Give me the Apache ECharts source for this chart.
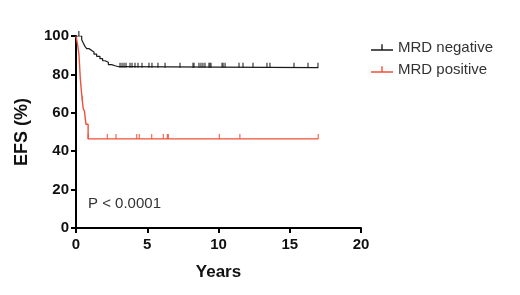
<!DOCTYPE html>
<html>
<head>
<meta charset="utf-8">
<script src="https://cdn.jsdelivr.net/npm/echarts@6/dist/echarts.min.js"></script>
<style>
  html, body { margin: 0; padding: 0; background: #fff; }
  #chart { width: 520px; height: 295px; }
</style>
</head>
<body>
<div id="chart"></div>
<script>
// Kaplan-Meier steps (years, EFS %)
var negTimes = [0, 0.4, 0.51, 0.63, 0.75, 0.93, 1.1, 1.26, 1.45, 1.68, 1.87, 2.04, 2.27, 2.5, 2.74, 3.0, 17.0];
var negSurv  = [100, 98.1, 96.4, 94.6, 93.4, 92.4, 91.7, 90.6, 89.4, 88.2, 87.1, 86.3, 85.1, 84.5, 84.0, 83.5, 83.5];
var negCensor = [0.2, 3.09, 3.23, 3.37, 3.51, 3.79, 3.93, 4.14, 4.35, 4.63, 5.12, 5.33, 5.75, 6.25, 7.3,
                 8.21, 8.28, 8.63, 8.77, 8.91, 9.05, 9.33, 9.4, 9.47, 10.25, 10.32, 10.46, 11.44, 11.72,
                 12.42, 13.4, 13.61, 15.3, 16.28, 16.98];

var posTimes = [0, 0.1, 0.2, 0.25, 0.3, 0.38, 0.45, 0.5, 0.6, 0.7, 0.85, 17.0];
var posSurv  = [100, 96, 91, 85, 78, 71, 66, 62.5, 60.5, 54, 46.4, 46.4];
var posCensor = [0.45, 0.86, 2.2, 2.81, 4.26, 4.44, 5.31, 6.13, 6.41, 6.48, 10.06, 11.5, 17.0];

var xTicks = [0, 5, 10, 15, 20];
var yTicks = [0, 20, 40, 60, 80, 100];

function pairs(t, s) {
  return t.map(function (v, i) { return [v, s[i]]; });
}
function survAt(t, s, x) {
  var y = s[0];
  for (var i = 0; i < t.length; i++) { if (t[i] <= x) y = s[i]; }
  return y;
}
function censorPts(c, t, s) {
  return c.map(function (x) { return [x, survAt(t, s, x)]; });
}

var BLACK = '#1a1a1a';
var RED = '#f0503a';
var FONT = 'Arial, Liberation Sans';
var legendIcon = 'path://M0,9 L22,9 L22,10.4 L0,10.4 Z M10.3,4 L11.7,4 L11.7,9 L10.3,9 Z';

var chart = echarts.init(document.getElementById('chart'));
chart.setOption({
  animation: false,
  grid: { left: 76, right: 159, top: 36, bottom: 67 },
  legend: {
    orient: 'vertical',
    left: 366,
    top: 35,
    itemGap: 7,
    itemWidth: 22,
    itemHeight: 10,
    textStyle: { fontFamily: FONT, fontSize: 15, color: '#333' },
    data: [
      { name: 'MRD negative', icon: legendIcon, itemStyle: { color: BLACK } },
      { name: 'MRD positive', icon: legendIcon, itemStyle: { color: RED } }
    ]
  },
  xAxis: {
    type: 'value', min: 0, max: 20, interval: 5,
    name: 'Years', nameLocation: 'middle', nameGap: 36,
    nameTextStyle: { fontFamily: FONT, fontWeight: 'bold', fontSize: 17, color: '#111' },
    splitLine: { show: false },
    axisLine: { lineStyle: { color: '#000', width: 2 } },
    axisTick: { length: 5, lineStyle: { width: 2, color: '#000' } },
    axisLabel: {
      fontFamily: FONT, fontWeight: 'bold', fontSize: 15, color: '#111', margin: 9,
      formatter: function (v) { return xTicks.indexOf(v) >= 0 ? String(v) : ''; }
    }
  },
  yAxis: {
    type: 'value', min: 0, max: 100, interval: 20,
    name: 'EFS (%)', nameLocation: 'middle', nameGap: 45, nameRotate: 90,
    nameTextStyle: { fontFamily: FONT, fontWeight: 'bold', fontSize: 18, color: '#111' },
    splitLine: { show: false },
    axisLine: { show: true, lineStyle: { color: '#000', width: 2 } },
    axisTick: { show: true, length: 5, lineStyle: { width: 2, color: '#000' } },
    axisLabel: {
      fontFamily: FONT, fontWeight: 'bold', fontSize: 15, color: '#111', margin: 7,
      formatter: function (v) { return yTicks.indexOf(v) >= 0 ? String(v) : ''; }
    }
  },
  graphic: [{
    type: 'text', left: 88, top: 196,
    style: { text: 'P < 0.0001', fontFamily: FONT, fontSize: 15, fill: '#333' }
  }],
  series: [
    {
      name: 'MRD negative', type: 'line', step: 'end', showSymbol: false,
      lineStyle: { color: BLACK, width: 1.2 }, itemStyle: { color: BLACK },
      data: pairs(negTimes, negSurv), z: 3
    },
    {
      name: 'MRD negative', type: 'scatter', symbol: 'rect', symbolSize: [1.3, 5],
      symbolOffset: [0, -2.5], itemStyle: { color: BLACK },
      data: censorPts(negCensor, negTimes, negSurv), z: 4
    },
    {
      name: 'MRD positive', type: 'line', step: 'end', showSymbol: false,
      lineStyle: { color: RED, width: 1.4 }, itemStyle: { color: RED },
      data: pairs(posTimes, posSurv), z: 2
    },
    {
      name: 'MRD positive', type: 'scatter', symbol: 'rect', symbolSize: [1.3, 5],
      symbolOffset: [0, -2.5], itemStyle: { color: RED },
      data: censorPts(posCensor, posTimes, posSurv), z: 2
    }
  ]
});
</script>
</body>
</html>
